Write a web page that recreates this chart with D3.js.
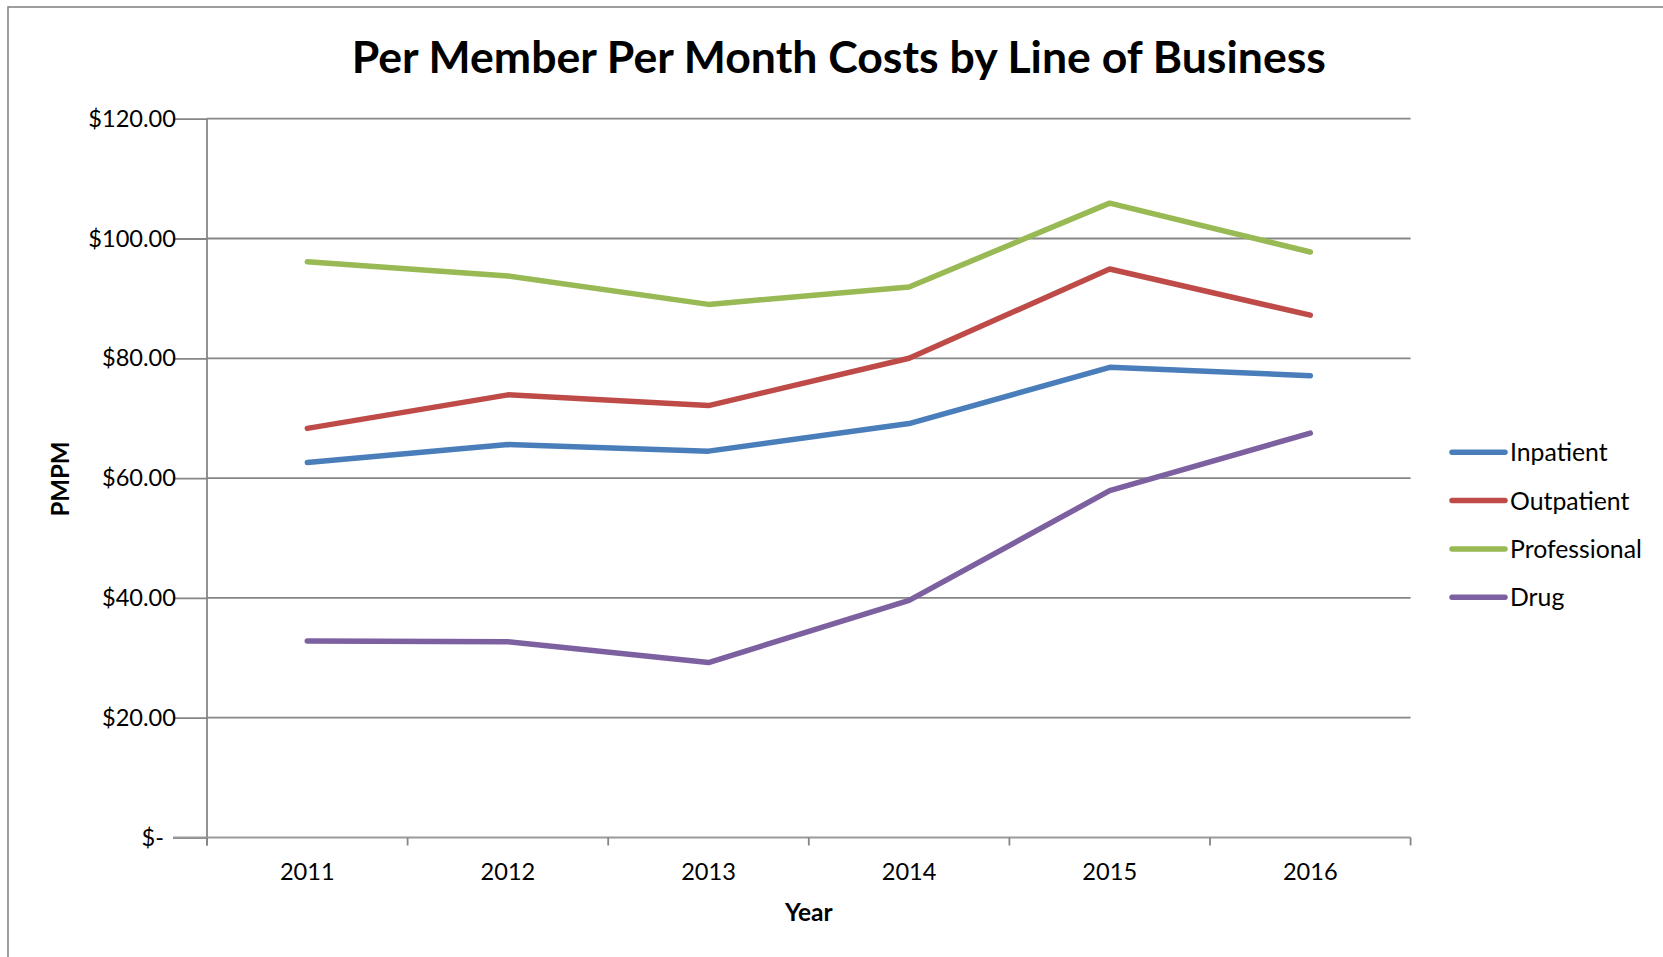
<!DOCTYPE html>
<html>
<head>
<meta charset="utf-8">
<script src="https://cdn.jsdelivr.net/npm/d3@7"></script>
<style>
  html, body { margin: 0; padding: 0; background: #fff; }
  svg { display: block; }
  text { font-family: Lato, "Open Sans", sans-serif; fill: #000; }
</style>
</head>
<body>
<svg id="chart" width="1663" height="957"></svg>
<script>
// Per-member-per-month cost data by line of business
const years = ["2011", "2012", "2013", "2014", "2015", "2016"];
const inpatient    = [62.6, 65.6, 64.5, 69.1, 78.5, 77.1];
const outpatient   = [68.3, 73.9, 72.1, 80.0, 94.9, 87.2];
const professional = [96.1, 93.75, 89.0, 91.9, 105.9, 97.75];
const drug         = [32.8, 32.7, 29.2, 39.6, 57.9, 67.5];
const seriesNames  = ["Inpatient", "Outpatient", "Professional", "Drug"];
const seriesColors = ["#4A7EBB", "#BE4B48", "#98B954", "#7D60A0"];
const yTicks = [0, 20, 40, 60, 80, 100, 120];

const series = [inpatient, outpatient, professional, drug].map((vals, i) => ({
  name: seriesNames[i],
  color: seriesColors[i],
  values: vals.map((v, j) => ({ year: years[j], value: v }))
}));

const svg = d3.select("#chart");
const plot = { left: 207, right: 1410.6, top: 118.7, bottom: 837.5 };
const gridColor = "#868686";

// Outer chart frame (only top and left edges fall inside the view)
svg.append("rect")
  .attr("x", 8).attr("y", 7)
  .attr("width", 1700).attr("height", 1000)
  .attr("fill", "none").attr("stroke", gridColor).attr("stroke-width", 1.6);

const x = d3.scaleBand().domain(years).range([plot.left, plot.right]);
const y = d3.scaleLinear().domain([0, 120]).range([plot.bottom, plot.top]);

// Horizontal gridlines
svg.append("g").selectAll("line")
  .data(yTicks.filter(d => d > 0))
  .join("line")
  .attr("x1", plot.left).attr("x2", plot.right)
  .attr("y1", d => y(d)).attr("y2", d => y(d))
  .attr("stroke", gridColor).attr("stroke-width", 1.8);

// Y axis
const money = d3.format("$,.2f");
const yAxis = svg.append("g")
  .attr("transform", `translate(${plot.left},0)`)
  .call(d3.axisLeft(y).tickValues(yTicks).tickSize(34).tickPadding(-3)
    .tickFormat(d => d === 0 ? "$-" : money(d)));
yAxis.select(".domain").remove();
yAxis.selectAll(".tick line").attr("stroke", gridColor).attr("stroke-width", 1.8);
yAxis.selectAll(".tick text")
  .attr("font-size", 23.6).attr("font-family", "Lato, sans-serif").attr("fill", "#000")
  .attr("dx", d => d === 0 ? -12 : 0);
svg.append("line")
  .attr("x1", plot.left).attr("x2", plot.left)
  .attr("y1", plot.top).attr("y2", plot.bottom + 8)
  .attr("stroke", gridColor).attr("stroke-width", 1.8);

// X axis: baseline, boundary ticks and centred category labels
svg.append("line")
  .attr("x1", plot.left - 34).attr("x2", plot.right)
  .attr("y1", plot.bottom).attr("y2", plot.bottom)
  .attr("stroke", "#9a9a9a").attr("stroke-width", 2);
const bounds = years.map(d => x(d)).concat([plot.right]);
svg.append("g").selectAll("line")
  .data(bounds)
  .join("line")
  .attr("x1", d => d).attr("x2", d => d)
  .attr("y1", plot.bottom).attr("y2", plot.bottom + 8)
  .attr("stroke", gridColor).attr("stroke-width", 1.8);
const xAxis = svg.append("g")
  .attr("transform", `translate(0,${plot.bottom})`)
  .call(d3.axisBottom(x).tickSize(0).tickPadding(26));
xAxis.select(".domain").remove();
xAxis.selectAll(".tick text")
  .attr("font-size", 23.6).attr("font-family", "Lato, sans-serif").attr("fill", "#000");

// Series lines
const line = d3.line()
  .x(d => x(d.year) + x.bandwidth() / 2)
  .y(d => y(d.value));
svg.append("g").selectAll("path")
  .data(series)
  .join("path")
  .attr("d", d => line(d.values))
  .attr("fill", "none")
  .attr("stroke", d => d.color)
  .attr("stroke-width", 5.5)
  .attr("stroke-linecap", "round")
  .attr("stroke-linejoin", "round");

// Title
svg.append("text")
  .attr("x", (plot.left + plot.right) / 2 + 30).attr("y", 73)
  .attr("text-anchor", "middle")
  .attr("font-size", 44.6).attr("font-weight", 700)
  .text("Per Member Per Month Costs by Line of Business");

// Axis titles
svg.append("text")
  .attr("x", (plot.left + plot.right) / 2).attr("y", 921)
  .attr("text-anchor", "middle")
  .attr("font-size", 24.5).attr("font-weight", 700)
  .text("Year");
svg.append("text")
  .attr("transform", "translate(69,479) rotate(-90)")
  .attr("text-anchor", "middle")
  .attr("font-size", 24).attr("font-weight", 700)
  .text("PMPM");

// Legend
const legend = svg.append("g").selectAll("g")
  .data(series)
  .join("g")
  .attr("transform", (d, i) => `translate(1452,${452.3 + i * 48.3})`);
legend.append("line")
  .attr("x1", 0).attr("x2", 53)
  .attr("stroke", d => d.color).attr("stroke-width", 5.5)
  .attr("stroke-linecap", "round");
legend.append("text")
  .attr("x", 58).attr("dy", "0.36em")
  .attr("font-size", 24.8)
  .text(d => d.name);
</script>
</body>
</html>
